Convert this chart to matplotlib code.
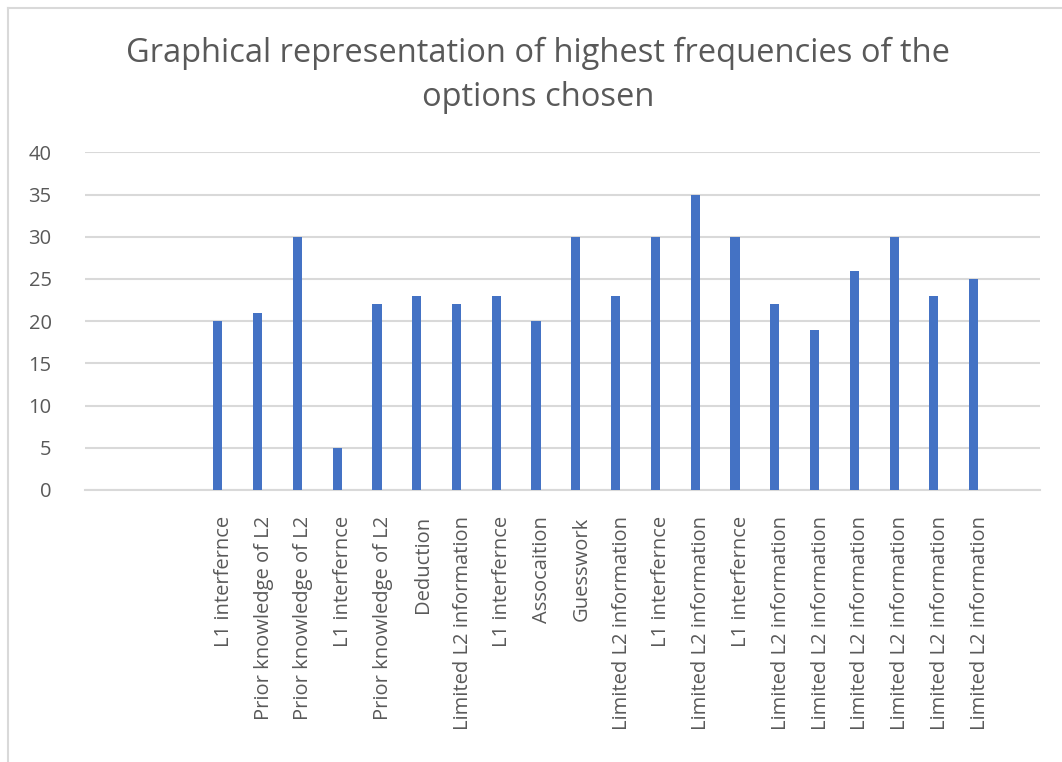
import matplotlib.pyplot as plt
from matplotlib.lines import Line2D
from matplotlib.transforms import ScaledTranslation

# options chosen and their highest frequencies
options = ['L1 interfernce', 'Prior knowledge of L2', 'Prior knowledge of L2',
           'L1 interfernce', 'Prior knowledge of L2', 'Deduction',
           'Limited L2 information', 'L1 interfernce', 'Assocaition', 'Guesswork',
           'Limited L2 information', 'L1 interfernce', 'Limited L2 information',
           'L1 interfernce', 'Limited L2 information', 'Limited L2 information',
           'Limited L2 information', 'Limited L2 information', 'Limited L2 information',
           'Limited L2 information']
frequency = [20, 21, 30, 5, 22, 23, 22, 23, 20, 30, 23, 30, 35, 30, 22, 19, 26, 30, 23, 25]
yticks = [0, 5, 10, 15, 20, 25, 30, 35, 40]

text_col = '#595959'
plt.rcParams['font.family'] = ['Open Sans', 'DejaVu Sans']

fig = plt.figure(figsize=(10.62, 7.62), dpi=100)
ax = fig.add_axes([0.080, 0.357, 0.899, 0.443])

x = list(range(len(options)))
ax.bar(x, frequency, width=0.23, color='#4472C4', zorder=3)

ax.set_ylim(0, 40)
ax.set_yticks(yticks)
ax.set_xlim(-3.34, len(options) - 1 + 1.66)
ax.set_xticks(x)
ax.set_xticklabels(options, rotation=90, fontsize=14.5, color=text_col)
ax.tick_params(axis='y', labelsize=14.5, colors=text_col, length=0, pad=24)
ax.tick_params(axis='x', length=0, pad=19)
# nudge category labels a little right of the bars, like the original
shift = ScaledTranslation(6 / 100, 0, fig.dpi_scale_trans)
for lab in ax.get_xticklabels():
    lab.set_transform(lab.get_transform() + shift)
ax.grid(axis='y', color='#d9d9d9', linewidth=1.5, zorder=0)
for s in ['top', 'right', 'left']:
    ax.spines[s].set_visible(False)
ax.spines['bottom'].set_color('#d9d9d9')
ax.spines['bottom'].set_linewidth(1.5)

fig.text(0.507, 0.901, 'Graphical representation of highest frequencies of the\noptions chosen',
         ha='center', va='center', fontsize=23.5, color=text_col, linespacing=1.42)

# chart frame (left and top edges visible)
fig.add_artist(Line2D([0.0075, 0.0075], [0, 0.989], color='#d9d9d9', linewidth=1.5))
fig.add_artist(Line2D([0.0075, 1.0], [0.989, 0.989], color='#d9d9d9', linewidth=1.5))

fig.savefig('out.png', dpi=100)
